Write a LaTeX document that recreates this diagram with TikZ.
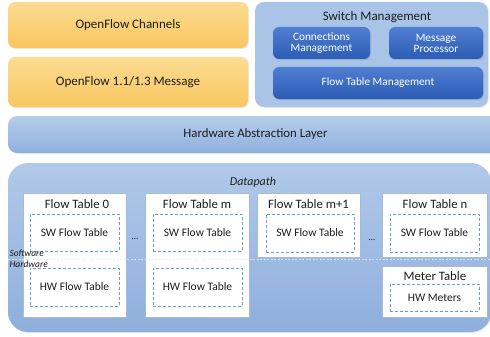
\documentclass[tikz,border=0pt]{standalone}
\usepackage{fontspec}
\setmainfont{Carlito}
\usetikzlibrary{shadows}
\definecolor{orgtop}{HTML}{FCDC94}
\definecolor{orgbot}{HTML}{F8C65E}
\definecolor{paleblue}{HTML}{A9C4E7}
\definecolor{haltop}{HTML}{B6CDEB}
\definecolor{halbot}{HTML}{8FB0DE}
\definecolor{dptop}{HTML}{B1C9E9}
\definecolor{dpbot}{HTML}{8EAFDD}
\definecolor{dktop}{HTML}{4F7ED3}
\definecolor{dkbot}{HTML}{2D5CB4}
\definecolor{dashblue}{HTML}{6A9ED6}
\definecolor{tableedge}{HTML}{A7BBD9}
\definecolor{ink}{HTML}{1E1E1E}
\begin{document}
\begin{tikzpicture}[x=1pt,y=-1pt,
  every node/.style={inner sep=0pt, outer sep=0pt, text=ink},
  block/.style={anchor=north west, align=center},
  orangebox/.style={block, rounded corners=7pt, top color=orgtop, bottom color=orgbot,
    drop shadow={opacity=0.18, shadow xshift=1pt, shadow yshift=-1pt},
    font=\fontsize{13}{15}\selectfont},
  bluepanel/.style={block, rounded corners=9pt, fill=paleblue,
    drop shadow={opacity=0.15, shadow xshift=1pt, shadow yshift=-1pt}},
  darkbox/.style={block, rounded corners=6pt, top color=dktop, bottom color=dkbot,
    text=white, font=\fontsize{11.3}{12.5}\selectfont,
    drop shadow={opacity=0.3, shadow xshift=1pt, shadow yshift=-1.2pt}},
  tablebox/.style={block, fill=white, draw=tableedge, line width=0.5pt},
  tabletitle/.style={font=\fontsize{12.8}{14}\selectfont},
  innerbox/.style={block, draw=dashblue, dashed, dash pattern=on 3pt off 2pt,
    line width=0.6pt, font=\fontsize{11.5}{13}\selectfont},
  sidelabel/.style={anchor=west, font=\fontsize{9.5}{10}\selectfont\itshape}
]
\useasboundingbox (0,0) rectangle (490,337);
\begin{scope}
\clip (0,0) rectangle (490,337);

% upper layer: OpenFlow side
\node[orangebox, minimum width=240pt, minimum height=46pt] (chan) at (8,2) {OpenFlow Channels};
\node[orangebox, minimum width=240pt, minimum height=50pt] (msg) at (8,57) {OpenFlow 1.1/1.3 Message};

% switch management panel
\node[bluepanel, minimum width=233pt, minimum height=105pt] (swm) at (255,2) {};
\node[font=\fontsize{13}{15}\selectfont] (swmtitle) at (377,17) {Switch Management};
\node[darkbox, minimum width=97pt, minimum height=32pt] (conn) at (273,27) {Connections\\[-1.5pt]Management};
\node[darkbox, minimum width=94pt, minimum height=32pt] (proc) at (389,27) {Message\\[-1.5pt]Processor};
\node[darkbox, minimum width=210pt, minimum height=32pt] (ftm) at (273,67) {Flow Table Management};

% hardware abstraction layer
\node[block, rounded corners=9pt, top color=haltop, bottom color=halbot,
  minimum width=500pt, minimum height=37pt,
  drop shadow={opacity=0.15, shadow xshift=1pt, shadow yshift=-1pt}] (hal) at (8,116) {};
\node[font=\fontsize{12.8}{14}\selectfont] (haltext) at (255.5,134.5) {Hardware Abstraction Layer};

% datapath
\node[block, rounded corners=20pt, top color=dptop, bottom color=dpbot,
  minimum width=483pt, minimum height=169pt,
  drop shadow={opacity=0.15, shadow xshift=1pt, shadow yshift=-1pt}] (dp) at (8,163) {};
\node[font=\fontsize{12}{14}\selectfont\itshape] (dptitle) at (253,182) {Datapath};

% flow table 0
\node[tablebox, minimum width=103pt, minimum height=124pt] (ft0) at (23,193) {};
\node[tabletitle] (ft0t) at (77,204.5) {Flow Table 0};
\node[innerbox, minimum width=89pt, minimum height=37pt] (sw0) at (30,214) {SW Flow Table};
\node[innerbox, minimum width=89pt, minimum height=38pt] (hw0) at (30,268) {HW Flow Table};

% flow table m
\node[tablebox, minimum width=104pt, minimum height=124pt] (ftmm) at (145,193) {};
\node[tabletitle] (ftmmt) at (197,204.5) {Flow Table m};
\node[innerbox, minimum width=89pt, minimum height=37pt] (swm1) at (153,214) {SW Flow Table};
\node[innerbox, minimum width=89pt, minimum height=38pt] (hwm1) at (153,268) {HW Flow Table};

% flow table m+1
\node[tablebox, minimum width=103pt, minimum height=64pt] (ftm1) at (257,193) {};
\node[tabletitle] (ftm1t) at (308.5,204.5) {Flow Table m+1};
\node[innerbox, minimum width=88pt, minimum height=38pt] (swm2) at (266,214) {SW Flow Table};

% flow table n
\node[tablebox, minimum width=105pt, minimum height=64pt] (ftn) at (382,193) {};
\node[tabletitle] (ftnt) at (435,204.5) {Flow Table n};
\node[innerbox, minimum width=89pt, minimum height=38pt] (swn) at (390,214) {SW Flow Table};

% meter table
\node[tablebox, minimum width=105pt, minimum height=51pt] (meter) at (382,266) {};
\node[tabletitle] (metert) at (435,276) {Meter Table};
\node[innerbox, minimum width=89pt, minimum height=27pt] (hwmet) at (390,284) {HW Meters};

% ellipses between tables
\node[font=\fontsize{9}{10}\selectfont] (dots1) at (135,239) {...};
\node[font=\fontsize{9}{10}\selectfont] (dots2) at (372,240) {...};

% software / hardware boundary
\coordinate (bl) at (8,259.5);
\coordinate (br) at (490,259.5);
\draw[white!80!dashblue, dashed, dash pattern=on 2pt off 1.5pt, line width=0.6pt, opacity=0.8] (bl) -- (br);
\node[sidelabel] (swlab) at (9.5,253) {Software};
\node[sidelabel] (hwlab) at (9.5,264) {Hardware};
\end{scope}
\end{tikzpicture}
\end{document}
